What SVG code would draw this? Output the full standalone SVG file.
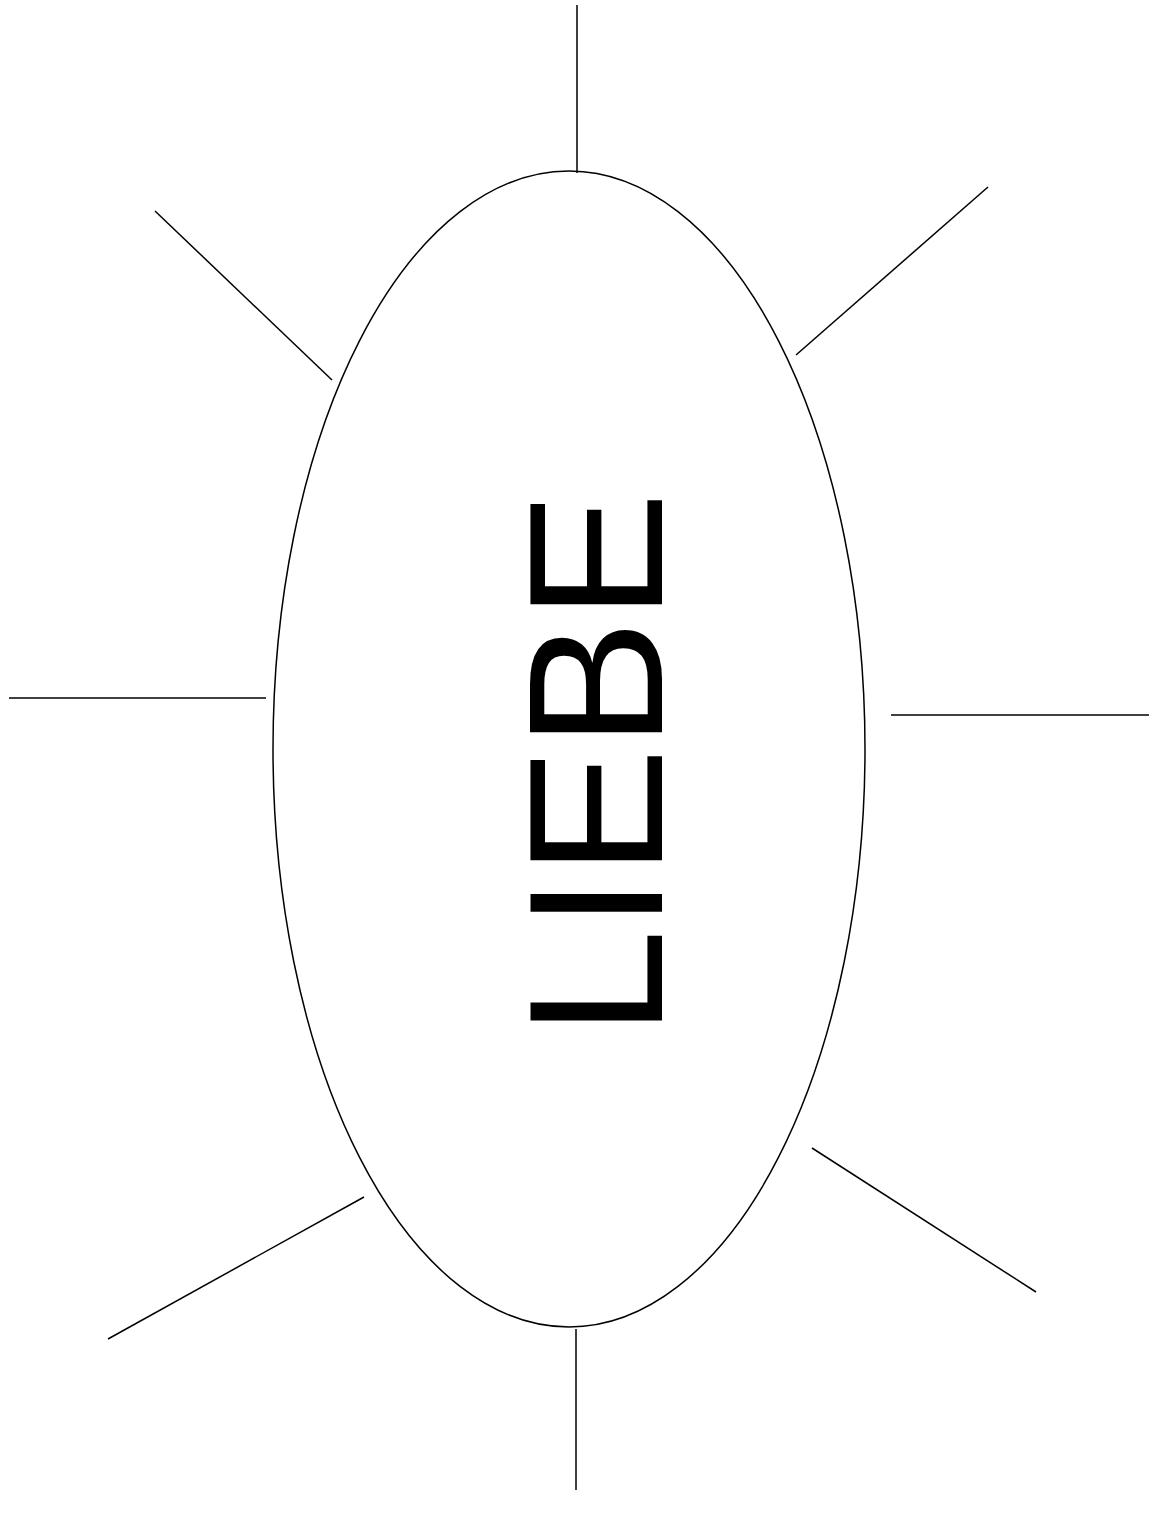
<svg xmlns="http://www.w3.org/2000/svg" width="1154" height="1519" viewBox="0 0 1154 1519">
<style>
.ln{stroke:#000;stroke-width:1.5;fill:none}
.lbl{font-family:"Liberation Sans",Arial,sans-serif;font-size:192px;fill:#000}
</style>
<rect width="1154" height="1519" fill="#fff"/>
<g id="connectors">
<line class="ln" x1="577" y1="5" x2="577" y2="173"/>
<line class="ln" x1="988" y1="187" x2="796" y2="355"/>
<line class="ln" x1="891" y1="715" x2="1149" y2="715"/>
<line class="ln" x1="812" y1="1148" x2="1036" y2="1292"/>
<line class="ln" x1="576" y1="1329" x2="576" y2="1490"/>
<line class="ln" x1="364" y1="1197" x2="108" y2="1339"/>
<line class="ln" x1="9" y1="698" x2="266" y2="698"/>
<line class="ln" x1="155" y1="211" x2="332" y2="380"/>
</g>
<g id="liebe">
<ellipse class="ln" cx="569" cy="749" rx="296" ry="578" fill="#fff"/>
<text class="lbl" transform="translate(662,764) rotate(-90)" text-anchor="middle">LIEBE</text>
</g>
</svg>
